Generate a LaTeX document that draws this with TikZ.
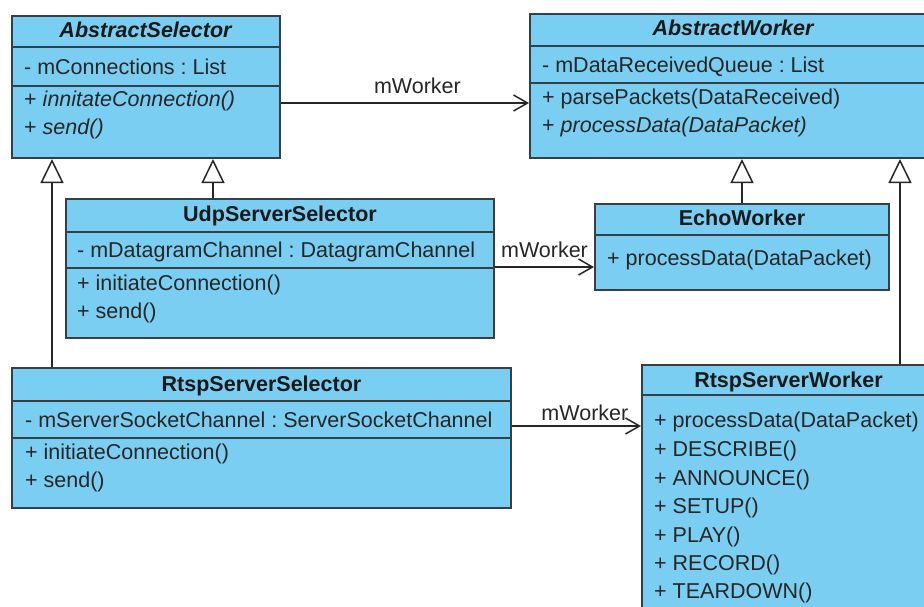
\documentclass[tikz,border=0pt]{standalone}
\usepackage{fontspec}
\setmainfont{Liberation Sans}
\usetikzlibrary{arrows.meta}
\definecolor{clsfill}{RGB}{122,206,242}
\definecolor{clsline}{RGB}{55,62,68}
\frenchspacing
\begin{document}
\begin{tikzpicture}[x=1pt,y=-1pt,
  font=\fontsize{21.5}{25}\selectfont,
  cls/.style={draw=clsline, fill=clsfill, line width=2pt, rectangle, inner sep=0pt, anchor=north west},
  divline/.style={draw=clsline, line width=2pt},
  txt/.style={anchor=base west, inner sep=0pt, text=black!85},
  ttl/.style={anchor=base, inner sep=0pt, text=black!90},
  lbl/.style={anchor=base, inner sep=0pt, text=black!85},
  inh/.style={draw=black!85, line width=1.5pt, -{Triangle[length=24pt,width=23pt,fill=white,line width=1.5pt]}},
  assoc/.style={draw=black!85, line width=1.5pt, -{Straight Barb[length=14pt,width=16pt,line width=1.5pt]}}]
\clip (0,0) rectangle (924,606);
\fill[white] (0,0) rectangle (924,606);

% ---- AbstractSelector ----
\node[cls, minimum width=268pt, minimum height=142pt] (as) at (11,15) {};
\draw[divline] (as.west |- 0,47) -- (as.east |- 0,47);
\draw[divline] (as.west |- 0,86) -- (as.east |- 0,86);
\node[ttl] (asT) at (as.north |- 0,37.5) {\textbf{\textit{AbstractSelector}}};
\node[txt] (asA) at (24,74) {- mConnections : List};
\node[txt] (asM1) at (24,106) {+ \textit{innitateConnection()}};
\node[txt] (asM2) at (24,134.5) {+ \textit{send()}};

% ---- AbstractWorker ----
\node[cls, minimum width=407pt, minimum height=144pt] (aw) at (529,13) {};
\draw[divline] (aw.west |- 0,46) -- (aw.east |- 0,46);
\draw[divline] (aw.west |- 0,83) -- (aw.east |- 0,83);
\node[ttl] (awT) at (aw.north |- 0,35) {\textbf{\textit{AbstractWorker}}};
\node[txt] (awA) at (542,72) {- mDataReceivedQueue : List};
\node[txt] (awM1) at (542,104) {+ parsePackets(DataReceived)};
\node[txt] (awM2) at (542,132.5) {+ \textit{processData(DataPacket)}};

% ---- UdpServerSelector ----
\node[cls, minimum width=428pt, minimum height=139pt] (udp) at (65,198) {};
\draw[divline] (udp.west |- 0,232) -- (udp.east |- 0,232);
\draw[divline] (udp.west |- 0,268) -- (udp.east |- 0,268);
\node[ttl] (udpT) at (udp.north |- 0,221) {\textbf{UdpServerSelector}};
\node[txt] (udpA) at (77,257) {- mDatagramChannel : DatagramChannel};
\node[txt] (udpM1) at (77,290) {+ initiateConnection()};
\node[txt] (udpM2) at (77,318.5) {+ send()};

% ---- EchoWorker ----
\node[cls, minimum width=294pt, minimum height=86pt] (echo) at (594,203) {};
\draw[divline] (echo.west |- 0,235) -- (echo.east |- 0,235);
\node[ttl] (echoT) at (echo.north |- 0,225) {\textbf{EchoWorker}};
\node[txt] (echoM1) at (607,265) {+ processData(DataPacket)};

% ---- RtspServerSelector ----
\node[cls, minimum width=499pt, minimum height=140pt] (rs) at (11,367) {};
\draw[divline] (rs.west |- 0,401) -- (rs.east |- 0,401);
\draw[divline] (rs.west |- 0,438) -- (rs.east |- 0,438);
\node[ttl] (rsT) at (rs.north |- 0,391) {\textbf{RtspServerSelector}};
\node[txt] (rsA) at (25,427) {- mServerSocketChannel : ServerSocketChannel};
\node[txt] (rsM1) at (25,459) {+ initiateConnection()};
\node[txt] (rsM2) at (25,487.5) {+ send()};

% ---- RtspServerWorker ----
\node[cls, minimum width=293pt, minimum height=276pt] (rw) at (641,364) {};
\draw[divline] (rw.west |- 0,395) -- (rw.east |- 0,395);
\node[ttl] (rwT) at (rw.north |- 0,387) {\textbf{RtspServerWorker}};
\node[txt] (rwM1) at (654,427) {+ processData(DataPacket)};
\node[txt] (rwM2) at (654,456) {+ DESCRIBE()};
\node[txt] (rwM3) at (654,485) {+ ANNOUNCE()};
\node[txt] (rwM4) at (654,513) {+ SETUP()};
\node[txt] (rwM5) at (654,542) {+ PLAY()};
\node[txt] (rwM6) at (654,570) {+ RECORD()};
\node[txt] (rwM7) at (654,598) {+ TEARDOWN()};

% ---- generalisations ----
\draw[inh] (rs.north -| 52,0) -- (as.south -| 52,0);
\draw[inh] (udp.north -| 213,0) -- (as.south -| 213,0);
\draw[inh] (echo.north -| 742,0) -- (aw.south -| 742,0);
\draw[inh] (rw.north -| 900,0) -- (aw.south -| 900,0);

% ---- associations ----
\draw[assoc] (as.east |- 0,103) -- (aw.west |- 0,103)
  node[lbl, pos=0.55, yshift=10pt] {mWorker};
\draw[assoc] (udp.east |- 0,267) -- (echo.west |- 0,267)
  node[lbl, pos=0.5, yshift=10pt] {mWorker};
\draw[assoc] (rs.east |- 0,426) -- (rw.west |- 0,426)
  node[lbl, pos=0.565, yshift=6pt] {mWorker};
\end{tikzpicture}
\end{document}
